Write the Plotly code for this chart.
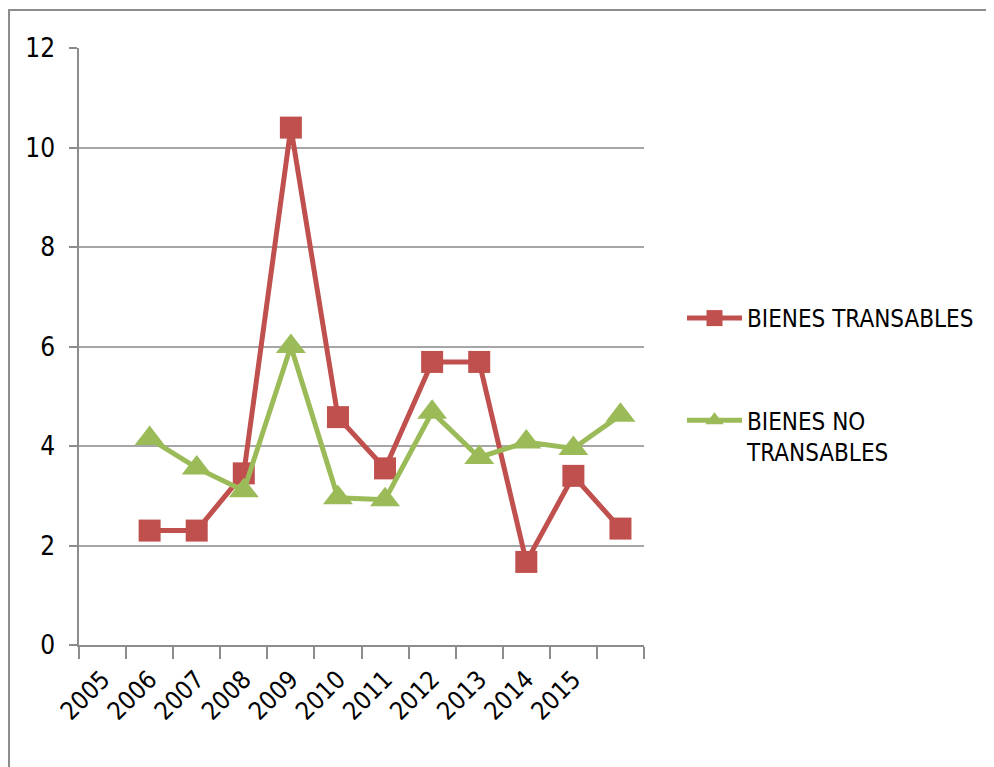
import plotly.graph_objects as go

years = ["2005", "2006", "2007", "2008", "2009", "2010", "2011", "2012", "2013", "2014", "2015"]
transables = [2.3, 2.3, 3.45, 10.4, 4.58, 3.55, 5.69, 5.69, 1.67, 3.4, 2.34]
no_transables = [4.15, 3.56, 3.1, 6.0, 2.96, 2.92, 4.68, 3.77, 4.08, 3.95, 4.62]
y_ticks = [0, 2, 4, 6, 8, 10, 12]

RED = "#C0504D"
GREEN = "#9BBB59"
FONT = "DejaVu Sans Condensed, Liberation Sans Narrow, Liberation Sans, sans-serif"

# Excel chart: data points sit one category to the right of their labels
n_cat = len(years) + 1
label_pos = list(range(len(years)))
data_pos = [i + 1 for i in range(len(years))]

# page body has an 8px margin: compensate so the picture lines up
OFF = 8
W, H = 994 - OFF, 767 - OFF
L, T = 79 - OFF, 48 - OFF
pw, ph = 565, 597
R, B = W - L - pw, H - T - ph

def px_x(x):
    return (x - OFF - L) / pw

def px_y(y):
    return (T + ph - (y - OFF)) / ph

fig = go.Figure()
fig.add_trace(go.Scatter(
    x=data_pos, y=transables, mode="lines+markers", name="BIENES TRANSABLES",
    line=dict(color=RED, width=5), legendgroup="a",
    marker=dict(symbol="square", size=22, color=RED),
))
fig.add_trace(go.Scatter(
    x=data_pos, y=no_transables, mode="lines+markers", name="BIENES NO<br>TRANSABLES",
    line=dict(color=GREEN, width=5), legendgroup="b",
    marker=dict(symbol="triangle-up", size=26, color=GREEN),
))

fig.update_layout(
    width=W, height=H,
    margin=dict(l=L, r=R, t=T, b=B, autoexpand=False),
    paper_bgcolor="white", plot_bgcolor="white",
    font=dict(family=FONT, size=24, color="#000000"),
    showlegend=True,
    legend=dict(
        x=px_x(682), y=px_y(296), xanchor="left", yanchor="top",
        font=dict(family=FONT, size=24, color="#000000"),
        itemwidth=55, traceorder="grouped", tracegroupgap=68, valign="top",
        bgcolor="rgba(0,0,0,0)",
    ),
    xaxis=dict(
        range=[-0.5, n_cat - 0.5], automargin=False,
        tickmode="array", tickvals=label_pos, ticktext=years,
        tickangle=-45, ticks="", showgrid=False, zeroline=False,
        showline=True, linecolor="#8C8C8C", linewidth=1.5,
        tickfont=dict(family=FONT, size=25, color="#000000"),
        ticklabelstandoff=8,
        minor=dict(tickmode="array", tickvals=[i - 0.5 for i in range(n_cat + 1)],
                   ticks="outside", ticklen=12, tickcolor="#8C8C8C", tickwidth=1.5,
                   showgrid=False),
        fixedrange=True,
    ),
    yaxis=dict(
        range=[0, 12], tickmode="array", tickvals=y_ticks, automargin=False,
        ticks="outside", ticklen=8, tickcolor="#8C8C8C", tickwidth=1.5,
        showgrid=True, gridcolor="#A6A6A6", gridwidth=1.5,
        zeroline=False, showline=True, linecolor="#8C8C8C", linewidth=1.5,
        tickfont=dict(family=FONT, size=26, color="#000000"),
        ticklabelstandoff=9,
        fixedrange=True,
    ),
    shapes=[
        dict(type="line", xref="paper", yref="paper",
             x0=px_x(8), x1=px_x(1000), y0=px_y(10), y1=px_y(10),
             line=dict(color="#8C8C8C", width=2)),
        dict(type="line", xref="paper", yref="paper",
             x0=px_x(9), x1=px_x(9), y0=px_y(10), y1=px_y(780),
             line=dict(color="#8C8C8C", width=2)),
    ],
)

fig.write_html("out.html")
